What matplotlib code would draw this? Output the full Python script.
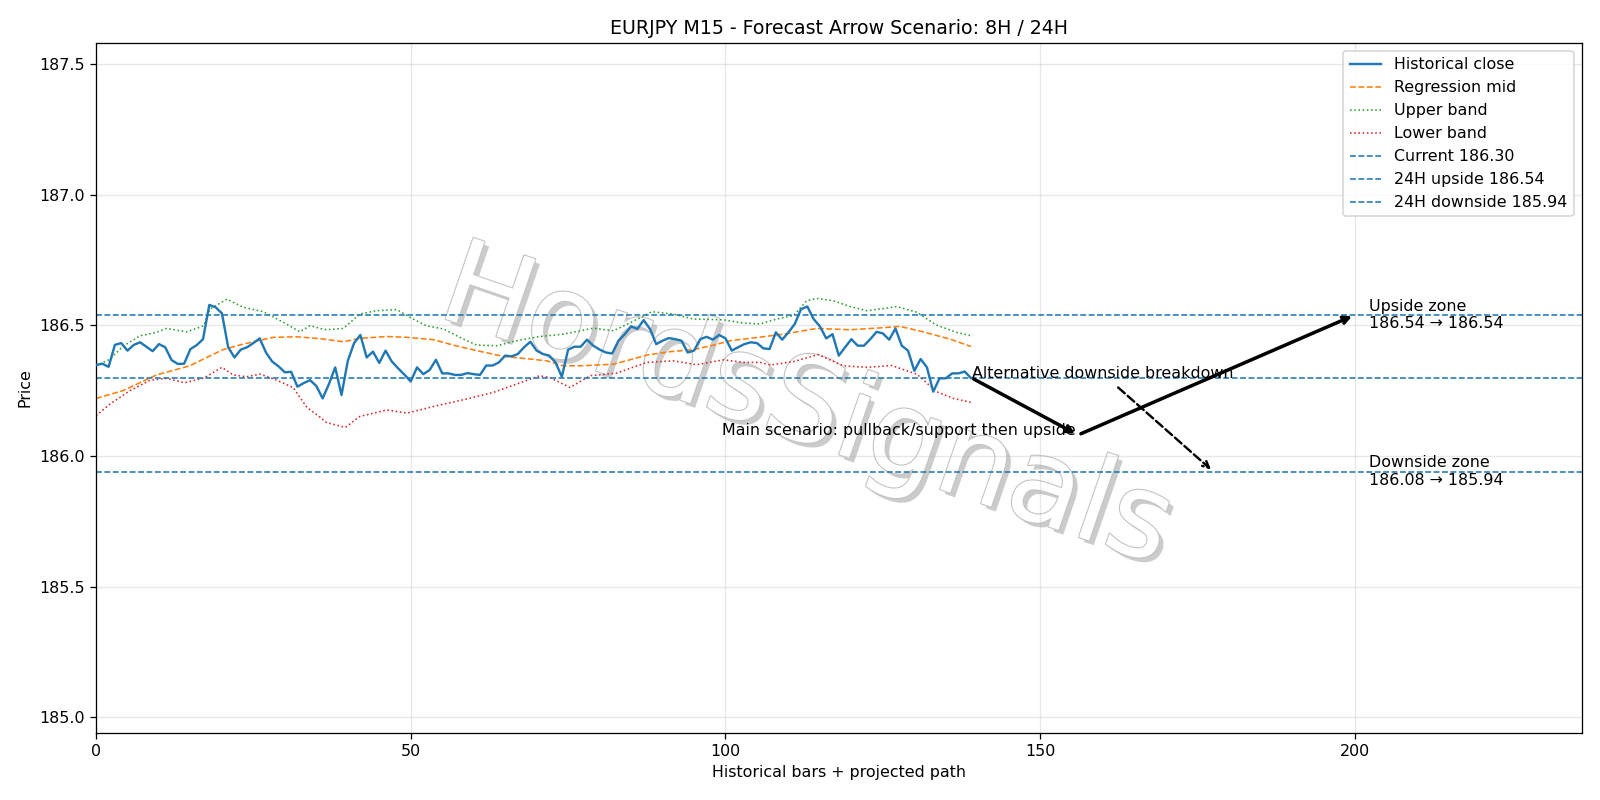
import matplotlib
matplotlib.use("Agg")
import matplotlib.pyplot as plt
import matplotlib.patheffects as pe

# ---- data ----
close = [186.348, 186.353, 186.341, 186.425, 186.432, 186.403, 186.425, 186.435, 186.418, 186.401,
         186.428, 186.416, 186.367, 186.352, 186.353, 186.409, 186.424, 186.447, 186.578, 186.569,
         186.546, 186.416, 186.377, 186.407, 186.416, 186.432, 186.450, 186.396, 186.361, 186.343,
         186.320, 186.322, 186.265, 186.279, 186.290, 186.268, 186.220, 186.275, 186.339, 186.233,
         186.364, 186.432, 186.463, 186.377, 186.399, 186.356, 186.403, 186.361, 186.335, 186.311,
         186.285, 186.339, 186.313, 186.329, 186.368, 186.316, 186.316, 186.310, 186.310, 186.317,
         186.313, 186.310, 186.346, 186.346, 186.358, 186.384, 186.381, 186.390, 186.416, 186.437,
         186.403, 186.390, 186.384, 186.358, 186.303, 186.407, 186.418, 186.418, 186.445, 186.422,
         186.407, 186.396, 186.392, 186.441, 186.466, 186.496, 186.486, 186.520, 186.486, 186.428,
         186.441, 186.451, 186.447, 186.441, 186.396, 186.403, 186.447, 186.456, 186.445, 186.463,
         186.450, 186.403, 186.416, 186.428, 186.435, 186.432, 186.412, 186.409, 186.473, 186.445,
         186.473, 186.505, 186.562, 186.572, 186.524, 186.496, 186.450, 186.466, 186.384, 186.416,
         186.447, 186.422, 186.422, 186.447, 186.475, 186.469, 186.445, 186.488, 186.422, 186.403,
         186.326, 186.371, 186.339, 186.246, 186.297, 186.297, 186.316, 186.316, 186.323, 186.298]

mid_x = [0, 4.3, 9.6, 14.9, 17.6, 20.2, 22.9, 25.5, 28.2, 31.9, 35.6, 39.3, 41.9, 46.2, 49.4, 53.6,
         56.8, 60.5, 64.7, 68.9, 71.6, 74.2, 76.9, 82.2, 84.8, 87.5, 91.2, 94.9, 98.1, 100.7, 103.9,
         109.2, 114.5, 119.8, 125.1, 127.7, 131.4, 135.7, 139]
mid_y = [186.22, 186.25, 186.31, 186.345, 186.377, 186.407, 186.425, 186.44, 186.454, 186.456,
         186.449, 186.437, 186.45, 186.457, 186.454, 186.445, 186.424, 186.403, 186.381, 186.371,
         186.364, 186.345, 186.345, 186.351, 186.368, 186.386, 186.399, 186.407, 186.424, 186.441,
         186.45, 186.466, 186.488, 186.483, 186.491, 186.496, 186.475, 186.447, 186.419]

up_x = [0, 2.2, 4.3, 7, 9.6, 11.2, 14.4, 17.1, 18.1, 20.8, 23.4, 26.6, 29.8, 32.4, 34, 35.6, 36.6,
        39.3, 41.9, 44.6, 47.8, 49.9, 52.5, 55.2, 57.8, 60.5, 63.7, 66.8, 70.5, 74.2, 79, 82.2, 84.8,
        88.3, 91.7, 94.9, 99.7, 102.8, 105.5, 108.1, 110.8, 112.9, 114.5, 117.1, 119.8, 122.4, 125.1,
        127.2, 130.4, 133.5, 136.7, 139]
up_y = [186.345, 186.37, 186.42, 186.46, 186.473, 186.488, 186.475, 186.498, 186.562, 186.6,
        186.569, 186.552, 186.511, 186.475, 186.499, 186.488, 186.483, 186.488, 186.543, 186.556,
        186.56, 186.53, 186.498, 186.486, 186.454, 186.424, 186.422, 186.441, 186.457, 186.466,
        186.489, 186.479, 186.509, 186.552, 186.543, 186.524, 186.521, 186.509, 186.505, 186.524,
        186.537, 186.594, 186.603, 186.594, 186.572, 186.556, 186.564, 186.572, 186.55, 186.501,
        186.473, 186.46]

lo_x = [0, 2.2, 5.4, 8.6, 11.2, 14.1, 17.1, 20, 21.8, 23.9, 26.1, 28.7, 31.3, 33.5, 35.6, 36.6,
        39.6, 41.9, 46.2, 49.4, 54.1, 58.9, 63.1, 66.8, 70.5, 72.1, 75.3, 78.5, 82.7, 87.5, 91.7,
        95.4, 99.7, 102.8, 105.5, 107.1, 110.8, 114.7, 118.7, 122.4, 126.4, 130.4, 133.5, 136.2, 139]
lo_y = [186.154, 186.198, 186.25, 186.29, 186.297, 186.28, 186.298, 186.339, 186.31, 186.303,
        186.313, 186.29, 186.262, 186.186, 186.148, 186.128, 186.109, 186.151, 186.176, 186.164,
        186.192, 186.218, 186.243, 186.275, 186.307, 186.3, 186.262, 186.307, 186.317, 186.358,
        186.364, 186.349, 186.368, 186.358, 186.358, 186.348, 186.361, 186.388, 186.345, 186.339,
        186.346, 186.313, 186.246, 186.22, 186.205]

current = 186.30
up_target = 186.54
down_target = 185.94
pivot = 186.08
last_x = 139
pivot_x = 156
up_x_end = 200
alt_start = (162, 186.27)
alt_end = (177.5, 185.94)

# ---- plot ----
fig, ax = plt.subplots(figsize=(14, 7), dpi=800 / 7)

ax.text(0.478, 0.47, "HordsSignals", transform=ax.transAxes, fontsize=74,
        rotation=-19, ha="center", va="center", color="white", zorder=0,
        path_effects=[pe.withSimplePatchShadow(offset=(3, -3), shadow_rgbFace="#999999", alpha=0.5),
                      pe.Stroke(linewidth=1.4, foreground="#c4c4c4"), pe.Normal()])

x_hist = list(range(len(close)))
ax.plot(x_hist, close, color="C0", lw=1.5, label="Historical close", zorder=3)
ax.plot(mid_x, mid_y, color="C1", ls="--", lw=1.0, label="Regression mid", zorder=2)
ax.plot(up_x, up_y, color="C2", ls=":", lw=1.0, label="Upper band", zorder=2)
ax.plot(lo_x, lo_y, color="C3", ls=":", lw=1.0, label="Lower band", zorder=2)
ax.axhline(current, color="C0", ls="--", lw=1.0, label=f"Current {current:.2f}")
ax.axhline(up_target, color="C0", ls="--", lw=1.0, label=f"24H upside {up_target:.2f}")
ax.axhline(down_target, color="C0", ls="--", lw=1.0, label=f"24H downside {down_target:.2f}")

ax.annotate("", xy=(pivot_x, pivot), xytext=(last_x, current),
            arrowprops=dict(arrowstyle="->", lw=2.2, color="black"), zorder=5)
ax.annotate("", xy=(up_x_end, up_target), xytext=(pivot_x, pivot),
            arrowprops=dict(arrowstyle="->", lw=2.2, color="black"), zorder=5)
ax.annotate("", xy=alt_end, xytext=alt_start,
            arrowprops=dict(arrowstyle="->", lw=1.5, color="black", ls="--"), zorder=5)

ax.text(155.6, 186.08, "Main scenario: pullback/support then upside", ha="right",
        va="baseline", fontsize=10, zorder=4)
ax.text(139.2, 186.297, "Alternative downside breakdown", ha="left", va="baseline",
        fontsize=10, zorder=4)
ax.text(202.2, up_target, f"Upside zone\n{up_target:.2f} \u2192 {up_target:.2f}",
        ha="left", va="center", fontsize=10)
ax.text(202.2, down_target, f"Downside zone\n{pivot:.2f} \u2192 {down_target:.2f}",
        ha="left", va="center", fontsize=10)

ax.set_xlim(0, 236)
ax.set_ylim(184.94, 187.58)
ax.set_title("EURJPY M15 - Forecast Arrow Scenario: 8H / 24H", fontsize=12)
ax.set_xlabel("Historical bars + projected path")
ax.set_ylabel("Price")
ax.grid(True, alpha=0.3)
ax.legend(loc="upper right", fontsize=10)

fig.subplots_adjust(left=0.06, right=0.9885, top=0.946, bottom=0.084)
fig.savefig("out.png", dpi=800 / 7)
